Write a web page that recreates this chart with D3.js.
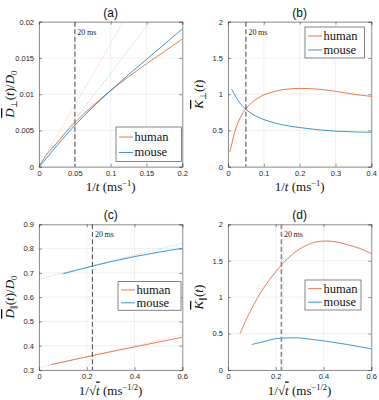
<!DOCTYPE html>
<html>
<head>
<meta charset="utf-8">
<script src="https://cdn.jsdelivr.net/npm/d3@7"></script>
<style>
body { margin: 0; background: #fff; }
.tick text { font-size: 7.5px; fill: #262626; }
</style>
</head>
<body>
<div id="chart"></div>
<script>
var WD = 379, HT = 400

var ORANGE = "#D95319", BLUE = "#0072BD"
var SANS = "Liberation Sans, Arial, sans-serif"
var SERIF = "Liberation Serif, DejaVu Serif, serif"

// (a) mean perpendicular diffusivity vs 1/t
var a_x = [0, 0.01, 0.025, 0.05, 0.075, 0.1, 0.125, 0.15, 0.175, 0.2]
var a_human = [0, 0.0016, 0.0033, 0.0061, 0.0084, 0.0105, 0.0124, 0.0142, 0.0159, 0.0176]
var a_mouse = [0, 0.0011, 0.0029, 0.0057, 0.0082, 0.0105, 0.0127, 0.0148, 0.0169, 0.019]
var a_human_fit = [[0, 0], [0.1177, 0.02]]
var a_mouse_fit = [[0, 0], [0.155, 0.02]]

// (b) perpendicular kurtosis vs 1/t
var b_hx = [0.005, 0.01, 0.02, 0.03, 0.04, 0.05, 0.07, 0.1, 0.125, 0.15, 0.2, 0.25, 0.3, 0.35, 0.4]
var b_human = [0.2, 0.3, 0.5, 0.63, 0.73, 0.8, 0.9, 0.99, 1.03, 1.06, 1.08, 1.07, 1.04, 1.0, 0.97]
var b_mx = [0.01, 0.02, 0.03, 0.04, 0.05, 0.07, 0.1, 0.15, 0.2, 0.25, 0.3, 0.35, 0.4]
var b_mouse = [1.07, 0.98, 0.9, 0.84, 0.79, 0.72, 0.65, 0.58, 0.54, 0.51, 0.49, 0.48, 0.475]

// (c) parallel diffusivity vs 1/sqrt(t)
var c_hx = [0.05, 0.1, 0.2, 0.3, 0.4, 0.5, 0.6]
var c_human = [0.322, 0.333, 0.354, 0.375, 0.395, 0.415, 0.435]
var c_mx = [0.1, 0.2, 0.3, 0.4, 0.5, 0.6]
var c_mouse = [0.696, 0.722, 0.746, 0.767, 0.785, 0.801]
var c_human_fit = [[0, 0.31], [0.6, 0.445]]
var c_mouse_fit = [[0, 0.675], [0.6, 0.822]]

// (d) parallel kurtosis vs 1/sqrt(t)
var d_hx = [0.05, 0.1, 0.15, 0.2, 0.25, 0.3, 0.35, 0.4, 0.45, 0.5, 0.55, 0.6]
var d_human = [0.5, 0.85, 1.13, 1.35, 1.53, 1.66, 1.74, 1.77, 1.76, 1.72, 1.67, 1.6]
var d_mx = [0.1, 0.15, 0.2, 0.25, 0.3, 0.35, 0.4, 0.45, 0.5, 0.55, 0.6]
var d_mouse = [0.35, 0.39, 0.43, 0.44, 0.44, 0.42, 0.40, 0.375, 0.35, 0.32, 0.29]

var t20_inv = 1 / 20, t20_sqrt = 1 / Math.sqrt(20)

function zip(xs, ys) { return xs.map(function(x, i) { return [x, ys[i]]; }); }

var svg = d3.select("#chart").append("svg")
    .attr("width", WD).attr("height", HT)

var panels = [
  { title: "(a)", left: 39, top: 21.7, xdom: [0, 0.2], ydom: [0, 0.02],
    xt: [0, 0.05, 0.1, 0.15, 0.2], yt: [0, 0.005, 0.01, 0.015, 0.02],
    series: [
      { d: zip(a_x, a_human), c: ORANGE }, { d: zip(a_x, a_mouse), c: BLUE },
      { d: a_human_fit, c: ORANGE, dot: true }, { d: a_mouse_fit, c: BLUE, dot: true }],
    vline: t20_inv, vcol: "#8a8a8a", vw: 1.6,
    legend: { x: 116, y: 127, w: 65.5, h: 34.5 },
    xlab: "inv", ylab: "D", ysub: "\u22A5" },
  { title: "(b)", left: 228, top: 21.7, xdom: [0, 0.4], ydom: [0, 2],
    xt: [0, 0.1, 0.2, 0.3, 0.4], yt: [0, 0.5, 1, 1.5, 2],
    series: [
      { d: zip(b_hx, b_human), c: ORANGE }, { d: zip(b_mx, b_mouse), c: BLUE }],
    vline: t20_inv, vcol: "#444", vw: 1,
    legend: { x: 305, y: 27, w: 59.5, h: 31 },
    xlab: "inv", ylab: "K", ysub: "\u22A5" },
  { title: "(c)", left: 39, top: 224.3, xdom: [0, 0.6], ydom: [0.3, 0.9],
    xt: [0, 0.2, 0.4, 0.6], yt: [0.3, 0.4, 0.5, 0.6, 0.7, 0.8, 0.9],
    series: [
      { d: zip(c_hx, c_human), c: ORANGE }, { d: zip(c_mx, c_mouse), c: BLUE },
      { d: c_human_fit, c: ORANGE, dot: true }, { d: c_mouse_fit, c: BLUE, dot: true }],
    vline: t20_sqrt, vcol: "#444", vw: 1,
    legend: { x: 118, y: 281.7, w: 63, h: 28.5 },
    xlab: "sqrt", ylab: "D", ysub: "\u2225" },
  { title: "(d)", left: 228, top: 224.3, xdom: [0, 0.6], ydom: [0, 2],
    xt: [0, 0.2, 0.4, 0.6], yt: [0, 0.5, 1, 1.5, 2],
    series: [
      { d: zip(d_hx, d_human), c: ORANGE }, { d: zip(d_mx, d_mouse), c: BLUE }],
    vline: t20_sqrt, vcol: "#8a8a8a", vw: 1.6,
    legend: { x: 305, y: 280, w: 56, h: 30 },
    xlab: "sqrt", ylab: "K", ysub: "\u2225" }
]

var pw = 143.3

panels.forEach(function(p) {
  var ph = p.top < 100 ? 145 : 145.7
  var x = d3.scaleLinear().domain(p.xdom).range([p.left, p.left + pw])
  var y = d3.scaleLinear().domain(p.ydom).range([p.top + ph, p.top])
  var g = svg.append("g")

  // grid
  g.selectAll(".gx").data(p.xt).enter().append("line")
    .attr("x1", function(d) { return x(d); }).attr("x2", function(d) { return x(d); })
    .attr("y1", p.top).attr("y2", p.top + ph)
    .attr("stroke", "#e6e6e6").attr("stroke-width", 0.6)
  g.selectAll(".gy").data(p.yt).enter().append("line")
    .attr("y1", function(d) { return y(d); }).attr("y2", function(d) { return y(d); })
    .attr("x1", p.left).attr("x2", p.left + pw)
    .attr("stroke", "#e6e6e6").attr("stroke-width", 0.6)

  // axes
  g.append("g").attr("transform", "translate(0," + (p.top + ph) + ")")
    .call(d3.axisBottom(x).tickValues(p.xt).tickSize(-3).tickPadding(3.5).tickFormat(d3.format("")))
  g.append("g").attr("transform", "translate(" + p.left + ",0)")
    .call(d3.axisLeft(y).tickValues(p.yt).tickSize(-3).tickPadding(5).tickFormat(d3.format("")))
  g.append("g").attr("transform", "translate(0," + p.top + ")")
    .call(d3.axisTop(x).tickValues(p.xt).tickSize(-3).tickFormat(""))
  g.append("g").attr("transform", "translate(" + (p.left + pw) + ",0)")
    .call(d3.axisRight(y).tickValues(p.yt).tickSize(-3).tickFormat(""))
  g.selectAll(".domain").attr("stroke", "#4d4d4d").attr("stroke-width", 0.6)
  g.selectAll(".tick line").attr("stroke", "#4d4d4d").attr("stroke-width", 0.6)
  g.selectAll(".tick text").attr("font-family", SANS)

  // series
  var line = d3.line().x(function(d) { return x(d[0]); }).y(function(d) { return y(d[1]); })
    .curve(d3.curveCatmullRom)
  p.series.forEach(function(s) {
    g.append("path").datum(s.d).attr("d", line)
      .attr("fill", "none").attr("stroke", s.c)
      .attr("stroke-width", 0.9)
      .attr("stroke-dasharray", s.dot ? "0.8,1.6" : null)
      .attr("opacity", s.dot ? 0.45 : 0.85)
  })

  // 20 ms marker
  g.append("line")
    .attr("x1", x(p.vline)).attr("x2", x(p.vline))
    .attr("y1", p.top).attr("y2", p.top + ph)
    .attr("stroke", p.vcol).attr("stroke-width", p.vw).attr("stroke-dasharray", "5,2.5")
  g.append("text").attr("font-family", SERIF)
    .attr("x", x(p.vline) + 2.5).attr("y", p.top + 13)
    .attr("font-size", 8).attr("fill", "#222").text("20\u2009ms")

  // title
  g.append("text").attr("font-family", SANS).attr("x", p.left + pw / 2).attr("y", p.top - 5)
    .attr("text-anchor", "middle").attr("font-size", 12).attr("fill", "#111")
    .text(p.title)

  // legend
  var L = p.legend
  g.append("rect").attr("x", L.x).attr("y", L.y).attr("width", L.w).attr("height", L.h)
    .attr("fill", "#fff").attr("stroke", "#333").attr("stroke-width", 0.6)
  ;[["human", ORANGE], ["mouse", BLUE]].forEach(function(it, i) {
    var yy = L.y + L.h * (i === 0 ? 0.29 : 0.74)
    g.append("line").attr("x1", L.x + 3).attr("x2", L.x + 17).attr("y1", yy).attr("y2", yy)
      .attr("stroke", it[1]).attr("stroke-width", 0.9).attr("opacity", 0.85)
    g.append("text").attr("font-family", SERIF).attr("x", L.x + 18.5).attr("y", yy + 3.8)
      .attr("font-size", 12.5).attr("fill", "#111").text(it[0])
  })

  // x label
  var xl = g.append("text").attr("font-family", SERIF)
    .attr("x", p.left + pw / 2).attr("y", p.top + ph + 24.5)
    .attr("text-anchor", "middle").attr("font-size", 13).attr("fill", "#111")
  if (p.xlab === "inv") {
    xl.append("tspan").text("1/")
    xl.append("tspan").attr("font-style", "italic").text("t")
    xl.append("tspan").text(" (ms")
    xl.append("tspan").attr("font-size", 8.5).attr("dy", -5).text("\u22121")
    xl.append("tspan").attr("dy", 5).text(")")
  } else {
    xl.append("tspan").text("1/\u221A")
    xl.append("tspan").attr("font-style", "italic").style("text-decoration", "overline").text("t")
    xl.append("tspan").text(" (ms")
    xl.append("tspan").attr("font-size", 8.5).attr("dy", -5).text("\u22121/2")
    xl.append("tspan").attr("dy", 5).text(")")
  }

  // y label
  var yl = g.append("text").attr("font-family", SERIF)
    .attr("transform", "translate(" + (p.left - 25) + "," + (p.top + ph / 2) + ") rotate(-90)")
    .attr("text-anchor", "middle").attr("font-size", 13).attr("fill", "#111")
  yl.append("tspan").attr("font-style", "italic").style("text-decoration", "overline").text(p.ylab)
  yl.append("tspan").attr("font-size", 8.5).attr("dy", 3).text(p.ysub)
  yl.append("tspan").attr("dy", -3).text("(")
  yl.append("tspan").attr("font-style", "italic").text("t")
  yl.append("tspan").text(")")
  if (p.ylab === "D") {
    yl.append("tspan").text("/")
    yl.append("tspan").attr("font-style", "italic").text("D")
    yl.append("tspan").attr("font-size", 8.5).attr("dy", 3).text("0")
  }
})
</script>
</body>
</html>
